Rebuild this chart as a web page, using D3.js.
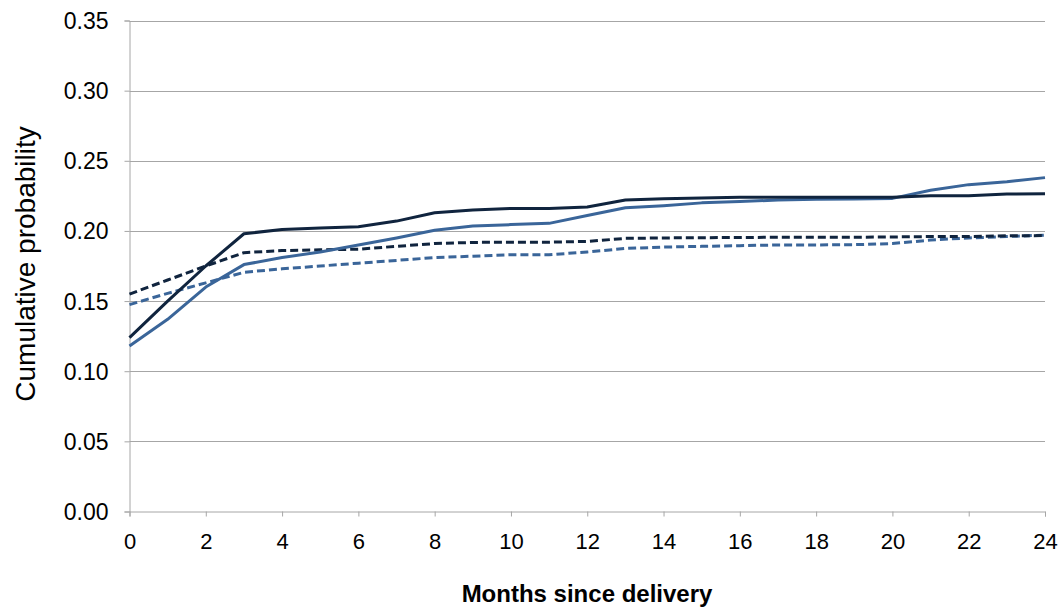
<!DOCTYPE html>
<html>
<head>
<meta charset="utf-8">
<script src="https://cdn.jsdelivr.net/npm/d3@7"></script>
<style>
  body { margin: 0; background: #fff; }
  text { font-family: "Liberation Sans", Arial, sans-serif; fill: #000; }
</style>
</head>
<body>
<script>
// months 0..24
var months = d3.range(0, 25);

var solidDark = [0.124, 0.150, 0.175, 0.198, 0.201, 0.202, 0.203, 0.207, 0.213, 0.215, 0.216, 0.216, 0.217,
  0.222, 0.223, 0.2235, 0.224, 0.224, 0.224, 0.224, 0.224, 0.225, 0.225, 0.2263, 0.2265];
var solidBlue = [0.118, 0.137, 0.160, 0.176, 0.181, 0.185, 0.190, 0.195, 0.2005, 0.2035, 0.2045, 0.2054, 0.211,
  0.2165, 0.218, 0.220, 0.221, 0.222, 0.2225, 0.2228, 0.2232, 0.229, 0.233, 0.235, 0.238];
var dashDark = [0.155, 0.165, 0.175, 0.1845, 0.186, 0.1865, 0.187, 0.189, 0.191, 0.1918, 0.192, 0.192, 0.1925,
  0.1947, 0.195, 0.1952, 0.1953, 0.1955, 0.1955, 0.1955, 0.1957, 0.196, 0.196, 0.1965, 0.1967];
var dashBlue = [0.1475, 0.1555, 0.163, 0.1705, 0.173, 0.175, 0.177, 0.179, 0.181, 0.182, 0.183, 0.183, 0.185,
  0.1875, 0.1885, 0.189, 0.1895, 0.190, 0.190, 0.1902, 0.191, 0.1935, 0.195, 0.196, 0.197];

var yTicks = [0, 0.05, 0.10, 0.15, 0.20, 0.25, 0.30, 0.35];
var xTicks = d3.range(0, 25, 2);

var series = [
  { values: dashBlue, color: "#3a6599", dash: "8,4" },
  { values: dashDark, color: "#10243e", dash: "8,4" },
  { values: solidBlue, color: "#3a6599", dash: null },
  { values: solidDark, color: "#10243e", dash: null }
];

var W = 1063, H = 614;
var svg = d3.select("body").append("svg").attr("width", W).attr("height", H);

var x = d3.scaleLinear().domain([0, 24]).range([129.5, 1045]);
var y = d3.scaleLinear().domain([0, 0.35]).range([511.5, 20.5]);

// gridlines
svg.append("g").selectAll("line")
  .data(yTicks.slice(1))
  .enter().append("line")
  .attr("x1", x(0)).attr("x2", x(24))
  .attr("y1", function (d) { return Math.round(y(d)) + 0.5; })
  .attr("y2", function (d) { return Math.round(y(d)) + 0.5; })
  .attr("stroke", "#a6a6a6").attr("stroke-width", 1);

// y axis
var yAxis = svg.append("g").attr("transform", "translate(" + x(0) + ",0)")
  .call(d3.axisLeft(y).tickValues(yTicks).tickFormat(d3.format(".2f")).tickSize(5).tickPadding(16));
yAxis.select(".domain").attr("stroke", "#a6a6a6");
yAxis.selectAll(".tick line").attr("stroke", "#a6a6a6");
yAxis.selectAll("text").style("font-size", "23px").style("font-family", "Liberation Sans, Arial, sans-serif").attr("dy", "0.35em");

// x axis
var xAxis = svg.append("g").attr("transform", "translate(0," + y(0) + ")")
  .call(d3.axisBottom(x).tickValues(xTicks).tickFormat(d3.format("d")).tickSize(5).tickPadding(17));
xAxis.select(".domain").attr("stroke", "#a6a6a6");
xAxis.selectAll(".tick line").attr("stroke", "#a6a6a6");
xAxis.selectAll("text").style("font-size", "22px").style("font-family", "Liberation Sans, Arial, sans-serif");

// lines
var line = d3.line()
  .x(function (d, i) { return x(months[i]); })
  .y(function (d) { return y(d); });

svg.append("g").selectAll("path")
  .data(series)
  .enter().append("path")
  .attr("d", function (d) { return line(d.values); })
  .attr("fill", "none")
  .attr("stroke", function (d) { return d.color; })
  .attr("stroke-width", 3)
  .attr("stroke-linejoin", "round")
  .attr("stroke-dasharray", function (d) { return d.dash; });

// axis titles
svg.append("text")
  .attr("transform", "translate(35,264) rotate(-90)")
  .attr("text-anchor", "middle")
  .style("font-size", "28px")
  .text("Cumulative probability");

svg.append("text")
  .attr("x", 587).attr("y", 602)
  .attr("text-anchor", "middle")
  .style("font-size", "24px").style("font-weight", "bold")
  .text("Months since delivery");
</script>
</body>
</html>
